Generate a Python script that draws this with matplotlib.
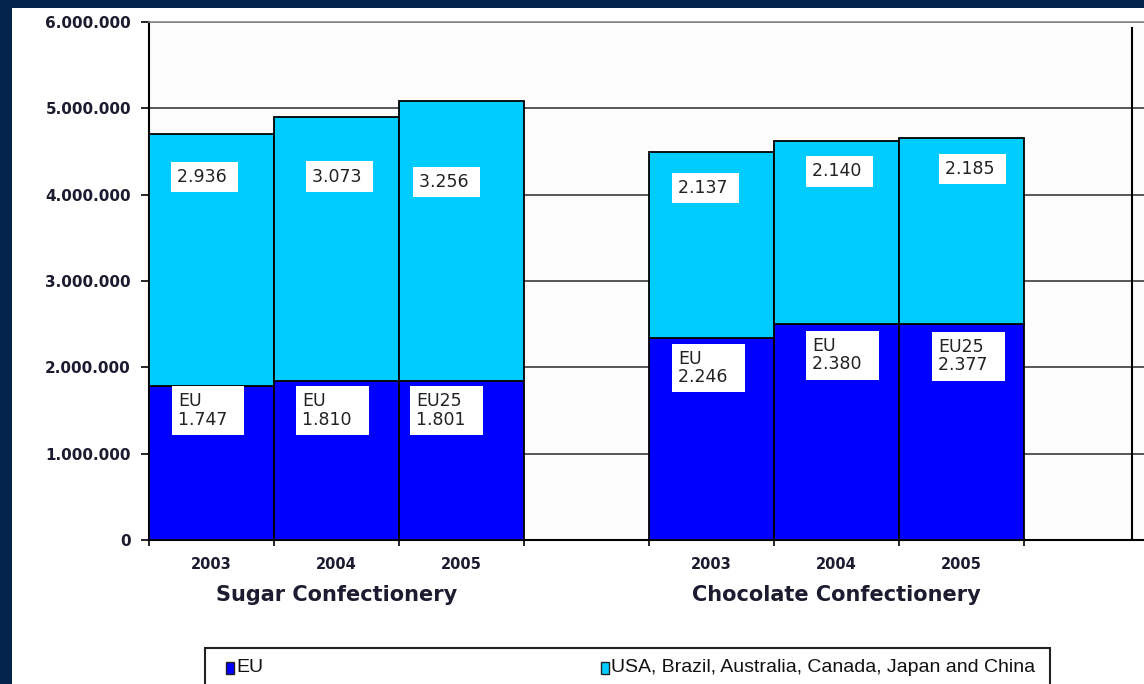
"""Sugar and chocolate confectionery production, EU vs. other major producers."""

import matplotlib
matplotlib.use("Agg")
import matplotlib.pyplot as plt
from matplotlib import font_manager
from matplotlib.patches import Rectangle
from matplotlib.ticker import FixedLocator, FuncFormatter

# --- data -------------------------------------------------------------------
YEARS = ["2003", "2004", "2005"]
GROUPS = ["Sugar Confectionery", "Chocolate Confectionery"]

# bar heights as drawn (tonnes)
EU_SUGAR = [1_780_000, 1_842_000, 1_842_000]
OTHER_SUGAR = [2_920_000, 3_063_000, 3_245_000]
EU_CHOC = [2_343_000, 2_505_000, 2_505_000]
OTHER_CHOC = [2_147_000, 2_111_000, 2_155_000]

# figures printed in the boxes (thousand tonnes)
EU_NAMES = ["EU", "EU", "EU25"]
EU_LABEL_SUGAR = [1747, 1810, 1801]
EU_LABEL_CHOC = [2246, 2380, 2377]
OTHER_LABEL_SUGAR = [2936, 3073, 3256]
OTHER_LABEL_CHOC = [2137, 2140, 2185]

SERIES = ["EU", "USA, Brazil, Australia, Canada, Japan and China"]
Y_TICKS = [0, 1_000_000, 2_000_000, 3_000_000, 4_000_000, 5_000_000, 6_000_000]

# --- style ------------------------------------------------------------------
NAVY = "#03234b"
EU_COLOR = "#0000ff"
OTHER_COLOR = "#00ccff"
TEXT = "#1c1c30"

# label box text offsets (pixels) from each bar's top-left corner
OTHER_OFFSETS = [(28, 34), (38, 51), (20, 72), (29, 27), (38, 21), (46, 22)]
EU_OFFSETS = [(29, 6), (28, 11), (17, 11), (29, 12), (38, 13), (39, 14)]

W, H = 1144, 684
names = {f.name for f in font_manager.fontManager.ttflist}
if "Liberation Sans Narrow" in names:
    legend_font, legend_size = "Liberation Sans Narrow", 15
else:
    legend_font, legend_size = "Liberation Sans", 14


def dotted(v):
    return f"{int(v):,}".replace(",", ".")


fig = plt.figure(figsize=(W / 100, H / 100), dpi=100, facecolor=NAVY)
fig.patches.append(Rectangle((12 / W, 0), 1, 1 - 8 / H, transform=fig.transFigure,
                             facecolor="white", edgecolor="none", zorder=-10))

ax = fig.add_axes([149 / W, (H - 540) / H, 1000 / W, 518 / H])
ax.set_facecolor("#fcfcfc")

x_pos = [g * 4 + i for g in range(len(GROUPS)) for i in range(len(YEARS))]
eu_vals = EU_SUGAR + EU_CHOC
other_vals = OTHER_SUGAR + OTHER_CHOC

ax.bar(x_pos, eu_vals, width=1.0, color=EU_COLOR, edgecolor="black", linewidth=1.3, zorder=3)
ax.bar(x_pos, other_vals, width=1.0, bottom=eu_vals, color=OTHER_COLOR,
       edgecolor="black", linewidth=1.3, zorder=3)

box = dict(boxstyle="square,pad=0.35", facecolor="white", edgecolor="none")
eu_texts = [f"{n}\n{dotted(v)}  " for n, v in zip(EU_NAMES * 2, EU_LABEL_SUGAR + EU_LABEL_CHOC)]
other_texts = [dotted(v) + " " for v in OTHER_LABEL_SUGAR + OTHER_LABEL_CHOC]
for i, x in enumerate(x_pos):
    left = x - 0.5
    top_eu = eu_vals[i]
    top_all = eu_vals[i] + other_vals[i]
    dx, dy = OTHER_OFFSETS[i]
    ax.annotate(other_texts[i], xy=(left, top_all), xytext=(dx, -dy), textcoords="offset pixels",
                ha="left", va="top", fontsize=12.5, color="#222222", bbox=box, zorder=5)
    dx, dy = EU_OFFSETS[i]
    ax.annotate(eu_texts[i], xy=(left, top_eu), xytext=(dx, -dy), textcoords="offset pixels",
                ha="left", va="top", fontsize=12.5, color="#222222", linespacing=1.05,
                bbox=box, zorder=5)

# axes
ax.set_xlim(-0.5, 7.5)
ax.set_ylim(0, 6_000_000)
ax.yaxis.set_major_locator(FixedLocator(Y_TICKS))
ax.yaxis.set_major_formatter(FuncFormatter(lambda v, _: dotted(v)))
ax.yaxis.grid(True, color="#2a2a2a", linewidth=1.1, zorder=0)
ax.set_axisbelow(True)

edges = [g * 4 + i - 0.5 for g in range(len(GROUPS)) for i in range(len(YEARS) + 1)]
ax.xaxis.set_major_locator(FixedLocator(edges))
ax.xaxis.set_major_formatter(FuncFormatter(lambda v, _: ""))
ax.xaxis.set_minor_locator(FixedLocator(x_pos))
ax.set_xticklabels(YEARS * 2, minor=True)

ax.tick_params(axis="y", length=6, width=1.2, pad=7, labelsize=11, labelcolor=TEXT)
ax.tick_params(axis="x", which="major", length=4, width=1.2)
ax.tick_params(axis="x", which="minor", length=0, pad=12, labelsize=10.5, labelcolor=TEXT)
for lbl in ax.get_yticklabels() + ax.get_xticklabels(minor=True):
    lbl.set_fontweight("bold")

for side in ("left", "bottom"):
    ax.spines[side].set_linewidth(1.5)
ax.spines["right"].set_visible(False)
ax.spines["top"].set_color("#8a8a8a")
ax.spines["top"].set_linewidth(1.2)
ax.axvline(7.364, ymax=0.988, color="black", linewidth=1.5, zorder=2)

for g, name in enumerate(GROUPS):
    center = g * 4 + (len(YEARS) - 1) / 2
    ax.annotate(name, xy=(center, 0), xycoords=("data", "axes fraction"), xytext=(0, -45),
                textcoords="offset pixels", ha="center", va="top", fontsize=15,
                fontweight="bold", color=TEXT)

# legend box (runs off the bottom of the picture)
fig.patches.append(Rectangle((205 / W, -0.05), 845 / W, 0.05 + (H - 648) / H,
                             transform=fig.transFigure, facecolor="white",
                             edgecolor="#222222", linewidth=1.5, zorder=3))
for colour, label, px in zip([EU_COLOR, OTHER_COLOR], SERIES, [226, 601]):
    fig.patches.append(Rectangle((px / W, (H - 674) / H), 8 / W, 12 / H,
                                 transform=fig.transFigure, facecolor=colour,
                                 edgecolor="#222222", linewidth=1.0, zorder=4))
    fig.text((px + 10) / W, (H - 668) / H, label, ha="left", va="center",
             fontsize=legend_size, family=[legend_font, "DejaVu Sans"], color="#111111", zorder=5)

fig.savefig("out.png", dpi=100, facecolor=NAVY)
